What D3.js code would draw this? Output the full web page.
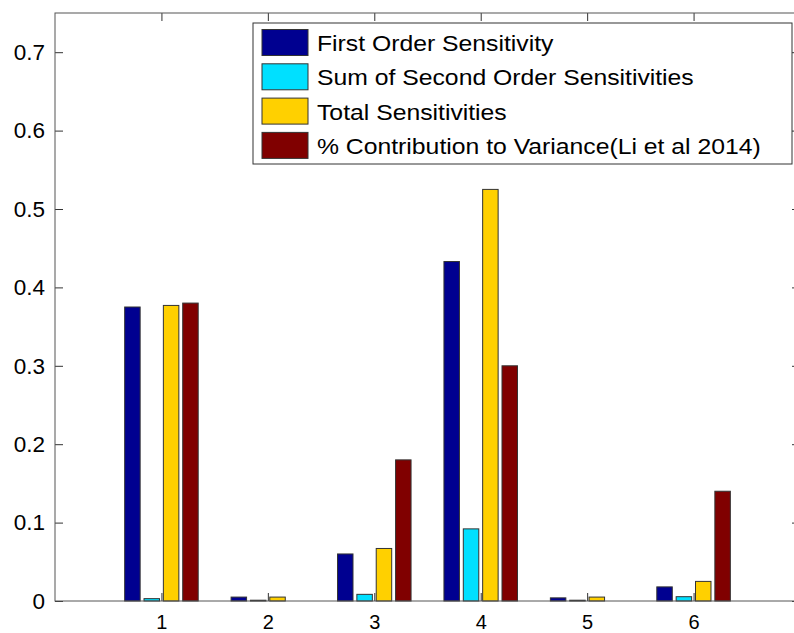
<!DOCTYPE html>
<html>
<head>
<meta charset="utf-8">
<script src="https://cdn.jsdelivr.net/npm/d3@7"></script>
<style>
  body { margin: 0; background: #fff; }
  svg { display: block; font-family: "Liberation Sans", Arial, Helvetica, sans-serif; }
</style>
</head>
<body>
<svg></svg>
<script>
// Data
const categories = [1, 2, 3, 4, 5, 6];
const seriesNames = [
    "First Order Sensitivity",
    "Sum of Second Order Sensitivities",
    "Total Sensitivities",
    "% Contribution to Variance(Li et al 2014)"
];
const firstOrder = [0.375, 0.005, 0.060, 0.433, 0.004, 0.018];
const secondOrderSum = [0.003, 0.001, 0.0085, 0.092, 0.001, 0.0055];
const totalSens = [0.377, 0.005, 0.067, 0.525, 0.005, 0.025];
const contribution = [0.38, 0, 0.18, 0.30, 0, 0.14];
const yTicks = [0, 0.1, 0.2, 0.3, 0.4, 0.5, 0.6, 0.7];
const colors = ["#000090", "#00E0FF", "#FFD000", "#800000"];

const seriesValues = [firstOrder, secondOrderSum, totalSens, contribution];

// Layout
const svgWidth = 794;
const svgHeight = 633;
const plot = { left: 55, right: 800, top: 13, bottom: 601 };
const tickLen = 8;

const svg = d3.select("svg")
    .attr("width", svgWidth)
    .attr("height", svgHeight);

// Scales
const xScale = d3.scaleLinear()
    .domain([0, 7])
    .range([plot.left, plot.right]);

const yScale = d3.scaleLinear()
    .domain([0, 0.75])
    .range([plot.bottom, plot.top]);

// grouped bar offsets (MATLAB style group width)
const groupWidth = (xScale(1) - xScale(0)) * 4 / 5.5;
const offset = d3.scaleBand()
    .domain(d3.range(seriesNames.length))
    .range([-groupWidth / 2, groupWidth / 2])
    .paddingInner(0.2)
    .paddingOuter(0.1);

// Bars
seriesValues.forEach((vals, s) => {
    svg.append("g")
        .selectAll("rect")
        .data(vals)
        .join("rect")
        .attr("x", (d, i) => xScale(categories[i]) + offset(s))
        .attr("y", d => yScale(d))
        .attr("width", offset.bandwidth())
        .attr("height", d => yScale(0) - yScale(d))
        .attr("fill", colors[s])
        .attr("stroke", d => d > 0 ? "#333" : "none")
        .attr("stroke-width", 1);
});

// Axes: inward ticks on all four sides
const xAxisBottom = d3.axisBottom(xScale)
    .tickValues(categories)
    .tickSize(-tickLen)
    .tickPadding(13.5)
    .tickFormat(d3.format("d"));

const xAxisTop = d3.axisTop(xScale)
    .tickValues(categories)
    .tickSize(-tickLen)
    .tickFormat("");

const yAxisLeft = d3.axisLeft(yScale)
    .tickValues(yTicks)
    .tickSize(-tickLen)
    .tickPadding(10)
    .tickFormat(d => d === 0 ? "0" : d3.format(".1f")(d));

const yAxisRight = d3.axisRight(yScale)
    .tickValues(yTicks)
    .tickSize(-tickLen)
    .tickFormat("");

function styleAxis(g, size) {
    g.select(".domain").remove();
    g.selectAll(".tick line").attr("stroke", "#333");
    g.selectAll(".tick text")
        .attr("fill", "#000")
        .attr("font-size", size)
        .attr("font-family", "Liberation Sans, Arial, sans-serif");
}

svg.append("g")
    .attr("transform", `translate(0, ${plot.bottom})`)
    .call(xAxisBottom)
    .call(styleAxis, 20);

svg.append("g")
    .attr("transform", `translate(0, ${plot.top})`)
    .call(xAxisTop)
    .call(styleAxis, 20);

svg.append("g")
    .attr("transform", `translate(${plot.left}, 0)`)
    .call(yAxisLeft)
    .call(styleAxis, 22.5);

svg.append("g")
    .attr("transform", `translate(${plot.right}, 0)`)
    .call(yAxisRight)
    .call(styleAxis, 22.5);

// axes box
svg.append("rect")
    .attr("x", plot.left)
    .attr("y", plot.top)
    .attr("width", plot.right - plot.left)
    .attr("height", plot.bottom - plot.top)
    .attr("fill", "none")
    .attr("stroke", "#555")
    .attr("stroke-width", 1);

// Legend
const legend = { x: 253, y: 23, w: 539, h: 141, rowH: 34.3 };
const lg = svg.append("g");

lg.append("rect")
    .attr("x", legend.x)
    .attr("y", legend.y)
    .attr("width", legend.w)
    .attr("height", legend.h)
    .attr("fill", "#fff")
    .attr("stroke", "#333")
    .attr("stroke-width", 1);

const rows = lg.selectAll(".row")
    .data(seriesNames)
    .join("g")
    .attr("class", "row")
    .attr("transform", (d, i) => `translate(${legend.x}, ${legend.y + 6.5 + i * legend.rowH})`);

rows.append("rect")
    .attr("x", 9)
    .attr("y", 0)
    .attr("width", 46)
    .attr("height", 26)
    .attr("fill", (d, i) => colors[i])
    .attr("stroke", "#333");

// legend text in the original is a bit wider than Arial, stretch it slightly
rows.append("text")
    .attr("transform", "translate(64, 21.5) scale(1.1, 1)")
    .attr("font-size", 22.5)
    .attr("fill", "#000")
    .text(d => d);
</script>
</body>
</html>
